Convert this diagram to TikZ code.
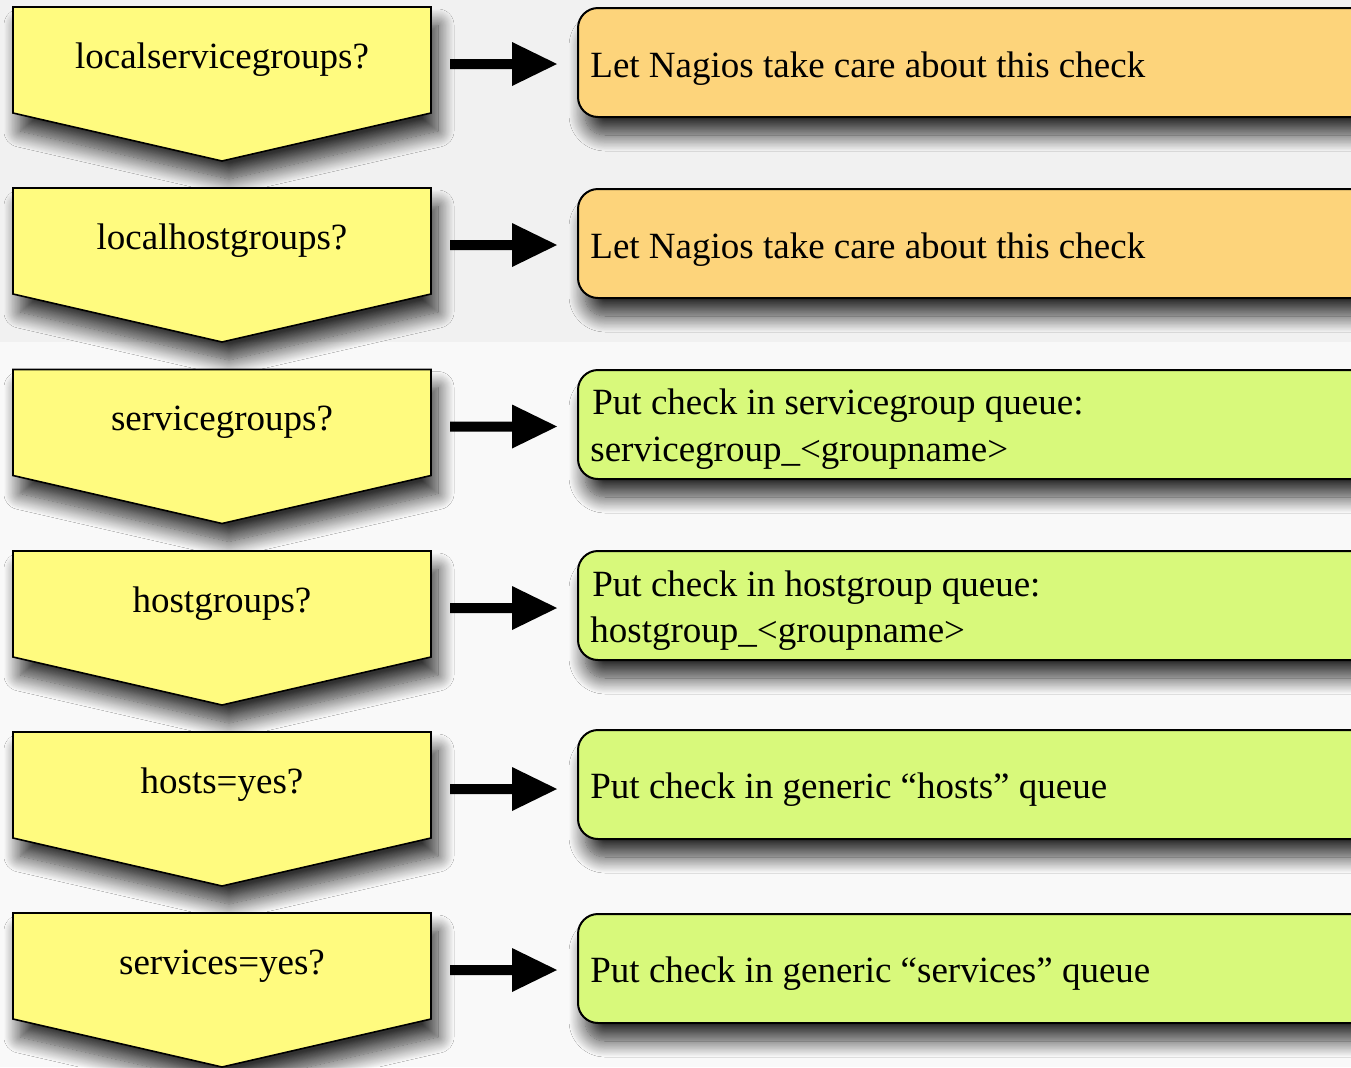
\documentclass[tikz,border=0pt]{standalone}
\usepackage{fontspec}
\setmainfont{Liberation Serif}
\usetikzlibrary{calc,shadows.blur}

\definecolor{pagetop}{HTML}{F1F1F1}
\definecolor{pagelow}{HTML}{F9F9F9}
\definecolor{askfill}{HTML}{FFFB7F}
\definecolor{nagiosfill}{HTML}{FDD47B}
\definecolor{queuefill}{HTML}{D8F97B}

\tikzset{
  dropshadow/.style={blur shadow={shadow xshift=3.5pt, shadow yshift=-9pt,
      shadow blur radius=8pt, shadow blur steps=20, shadow opacity=80}},
  askshape/.style={draw=black, line width=0.8pt, fill=askfill, line join=miter, dropshadow},
  resultbox/.style={draw=black, line width=1pt, rounded corners=10pt, inner sep=0pt,
      minimum width=401pt, minimum height=54.5pt, dropshadow},
  asktext/.style={anchor=base, inner sep=0pt, font=\fontsize{18.5}{22}\selectfont},
  resulttext/.style={anchor=base west, inner sep=0pt, font=\fontsize{18.5}{22}\selectfont},
  flowarrow/.style={fill=black}
}

% one question chevron: #1 = name, #2 = top edge, #3 = label
\newcommand{\askchevron}[3]{%
  \path[askshape] (13,#2) -- (431,#2) -- (431,#2+106) -- (222,#2+154) -- (13,#2+106) -- cycle;
  \node[asktext] (#1t) at (222,#2+61) {#3};
  \coordinate (#1) at (431,#2+57);
}

\begin{document}
\begin{tikzpicture}[x=0.5pt,y=-0.5pt]
  % page background
  \useasboundingbox (0,0) rectangle (1351,1067);
  \clip (0,0) rectangle (1351,1067);
  \fill[pagelow] (0,0) rectangle (1351,1067);
  \fill[pagetop] (0,0) rectangle (1351,342);

  % result boxes (they run off the right edge)
  \node[resultbox, fill=nagiosfill] (r1) at (979,62.5) {};
  \node[resultbox, fill=nagiosfill] (r2) at (979,243.5) {};
  \node[resultbox, fill=queuefill]  (r3) at (979,424.5) {};
  \node[resultbox, fill=queuefill]  (r4) at (979,605.5) {};
  \node[resultbox, fill=queuefill]  (r5) at (979,784.5) {};
  \node[resultbox, fill=queuefill]  (r6) at (979,968.5) {};

  \node[resulttext] (r1a) at (590,77) {Let Nagios take care about this check};
  \node[resulttext] (r2a) at (590,258) {Let Nagios take care about this check};
  \node[resulttext] (r3a) at (592,414) {Put check in servicegroup queue:};
  \node[resulttext] (r3b) at (590,461) {servicegroup\_<groupname>};
  \node[resulttext] (r4a) at (592,596) {Put check in hostgroup queue:};
  \node[resulttext] (r4b) at (590,642) {hostgroup\_<groupname>};
  \node[resulttext] (r5a) at (590,798) {Put check in generic “hosts” queue};
  \node[resulttext] (r6a) at (590,982) {Put check in generic “services” queue};

  % question chevrons, drawn top to bottom so each one lies over the shadow above it
  \askchevron{q1}{7}{localservicegroups?}
  \askchevron{q2}{188}{localhostgroups?}
  \askchevron{q3}{369.5}{servicegroups?}
  \askchevron{q4}{551}{hostgroups?}
  \askchevron{q5}{732}{hosts=yes?}
  \askchevron{q6}{913}{services=yes?}

  % block arrows from each question to its result: shaft from 19 px after the
  % chevron, head ending 20 px before the box
  \foreach \i in {1,...,6}
    \fill[flowarrow] let \p1=(q\i), \p2=(q\i -| r\i.west) in
      ($(\p1)+(19,-5)$) -- ($(\p2)+(-65,-5)$) -- ($(\p2)+(-65,-22)$)
      -- ($(\p2)+(-20,0)$) -- ($(\p2)+(-65,22)$) -- ($(\p2)+(-65,5)$)
      -- ($(\p1)+(19,5)$) -- cycle;
\end{tikzpicture}
\end{document}
